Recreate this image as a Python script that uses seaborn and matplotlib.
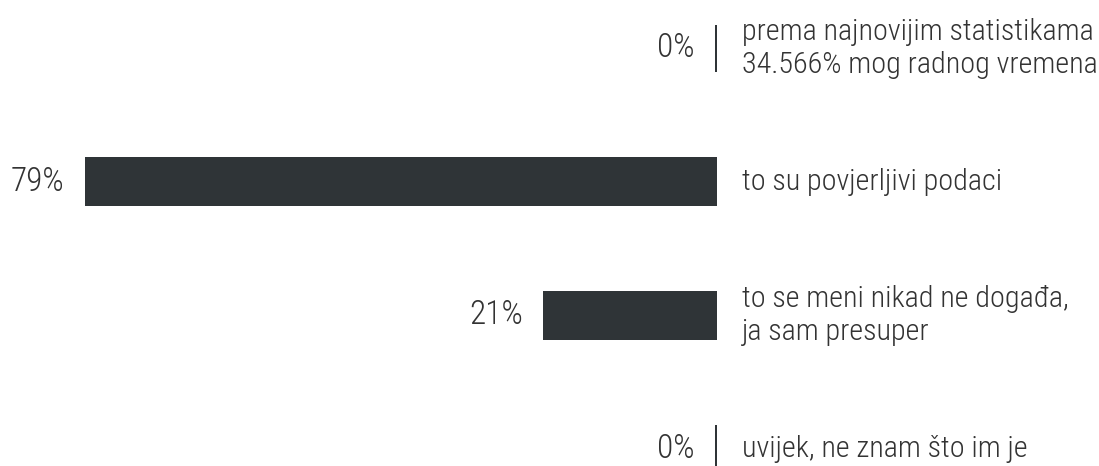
import matplotlib
matplotlib.use("Agg")
import matplotlib.pyplot as plt
import seaborn as sns
import pandas as pd

categories = [
    "prema najnovijim statistikama\n34.566% mog radnog vremena",
    "to su povjerljivi podaci",
    "to se meni nikad ne događa,\nja sam presuper",
    "uvijek, ne znam što im je",
]
values = [0, 78.6, 21.4, 0]
pct_labels = ["0%", "79%", "21%", "0%"]

BAR = "#2f3437"
TXT = "#333333"

sns.set_theme(style="white")
plt.rcParams['font.family'] = ['Roboto Condensed', 'Barlow Condensed',
                               'Archivo Narrow', 'DejaVu Sans']

fig = plt.figure(figsize=(10.99, 4.66), dpi=100)
ax = fig.add_axes([0, 0, 1, 1])
df = pd.DataFrame({"category": categories, "value": values})
sns.barplot(data=df, x="value", y="category", orient="h", color=BAR,
            saturation=1, width=0.352, edgecolor=BAR, linewidth=1.44,
            errorbar=None, ax=ax)
ax.set_xlim(89.33, -47.79)
ax.set_ylim(3.1292, -0.3614)
ax.axis('off')

for i, (v, lab, cat) in enumerate(zip(values, pct_labels, categories)):
    ax.annotate(lab, xy=(v, i), xytext=(-15.8, 0), textcoords='offset points',
                ha='right', va='center', fontsize=24, color=TXT, fontweight='light')
    ax.annotate(cat, xy=(0, i), xytext=(19.0, 0), textcoords='offset points',
                ha='left', va='center', fontsize=21.7, color=TXT, fontweight='light',
                linespacing=1.22)

fig.savefig("out.png", dpi=100)
